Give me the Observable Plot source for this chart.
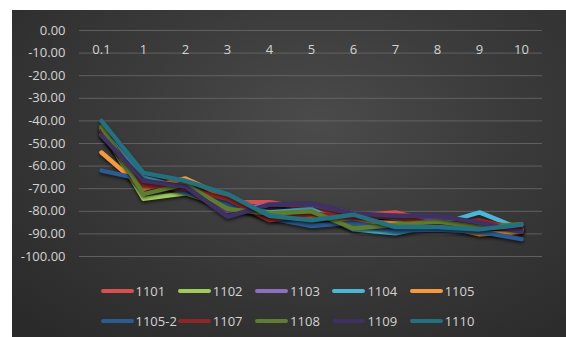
<!DOCTYPE html>
<html>
<head>
<meta charset="utf-8">
<script src="https://cdn.jsdelivr.net/npm/d3@7"></script>
<script src="https://cdn.jsdelivr.net/npm/@observablehq/plot@0.6"></script>
<style>
  html, body { margin: 0; padding: 0; background: #ffffff; }
  body { width: 566px; height: 337px; overflow: hidden; position: relative; }
  #panel {
    position: absolute; left: 12px; top: 10px; width: 554px; height: 327px;
    background: radial-gradient(ellipse 75% 85% at 55% 35%, #4b4b4b 0%, #3b3b3b 45%, #2a2a2a 100%);
    font-family: "Open Sans", sans-serif;
  }
  #chart svg { display: block; background: transparent; }
  #chart svg g[aria-label="line"] path { filter: drop-shadow(0px 2px 1.5px rgba(0,0,0,0.55)); }
  #legend { position: relative; width: 554px; height: 62px; }
  .item { position: absolute; display: flex; align-items: center; height: 20px; color: #d4d4d4; font-size: 13px; }
  .swatch { width: 33px; height: 4px; border-radius: 2px; margin-right: 2px; }
</style>
</head>
<body>
<div id="panel">
  <div id="chart"></div>
  <div id="legend"></div>
</div>
<script>
const categories = ["0.1", "1", "2", "3", "4", "5", "6", "7", "8", "9", "10"];
const seriesNames = ["1101", "1102", "1103", "1104", "1105", "1105-2", "1107", "1108", "1109", "1110"];
const seriesColors = ["#d8504e", "#9fcc5a", "#8f6dbf", "#4bb6d6", "#f7993f", "#2b5b93", "#8c2727", "#5f7d2f", "#3f3162", "#24707e"];
const yTicks = [0, -10, -20, -30, -40, -50, -60, -70, -80, -90, -100];

const s1101  = [-45,   -69.5, -69,   -76,   -76,   -79,   -82,   -80.5, -85,   -86,   -88];
const s1102  = [-43.5, -74.5, -72,   -78,   -81,   -81,   -86,   -85,   -84,   -87,   -88];
const s1103  = [-46,   -67,   -68,   -80,   -77,   -77,   -81,   -83,   -83,   -85,   -88.5];
const s1104  = [-44,   -65,   -70,   -77,   -80.5, -79,   -88,   -89.7, -86,   -80.5, -88];
const s1105  = [-54,   -70,   -65.5, -74,   -82,   -82.4, -84,   -85.4, -86,   -90.2, -89];
const s1105b = [-62,   -66,   -71.6, -76,   -83,   -86.5, -85,   -88.5, -88,   -89,   -92.3];
const s1107  = [-44,   -68.5, -70,   -74.5, -84,   -81,   -83,   -82,   -86,   -84,   -88];
const s1108  = [-42.5, -72.4, -68,   -79,   -81,   -80,   -87.6, -86,   -84.5, -87,   -85.7];
const s1109  = [-46.5, -66.5, -69,   -82.4, -77,   -76.5, -81,   -82,   -82,   -85,   -89];
const s1110  = [-40,   -63,   -66.5, -72.4, -82,   -84,   -81.5, -87,   -87,   -88,   -86];

const seriesValues = [s1101, s1102, s1103, s1104, s1105, s1105b, s1107, s1108, s1109, s1110];

const rows = [];
seriesNames.forEach((name, i) => {
  seriesValues[i].forEach((v, j) => rows.push({series: name, cat: categories[j], value: v}));
});

const chart = Plot.plot({
  width: 554,
  height: 262,
  marginTop: 20,
  marginBottom: 16,
  marginLeft: 67,
  marginRight: 24,
  style: {fontFamily: "Open Sans, sans-serif", fontSize: "13px", color: "#d4d4d4", background: "transparent"},
  x: {type: "point", domain: categories, padding: 0.5},
  y: {domain: [-100, 0]},
  color: {domain: seriesNames, range: seriesColors},
  marks: [
    Plot.gridY(yTicks, {stroke: "#6a6a6a", strokeOpacity: 0.8, strokeWidth: 1}),
    Plot.axisY(yTicks, {tickSize: 0, tickPadding: 14, tickFormat: d => d.toFixed(2), label: null, fill: "#d4d4d4"}),
    Plot.axisX(categories, {anchor: "top", tickSize: 0, tickPadding: 0, lineAnchor: "middle", dy: 19, label: null, fill: "#d4d4d4"}),
    ...seriesNames.map((name, i) =>
      Plot.line(rows.filter(r => r.series === name), {x: "cat", y: "value", stroke: seriesColors[i], strokeWidth: 4.5, strokeLinejoin: "round", strokeLinecap: "round"})
    )
  ]
});
document.getElementById("chart").appendChild(chart);

const legend = document.getElementById("legend");
seriesNames.forEach((name, i) => {
  const row = Math.floor(i / 5), col = i % 5;
  const el = document.createElement("div");
  el.className = "item";
  el.style.left = (88.5 + col * 77.3) + "px";
  el.style.top = (9 + row * 30) + "px";
  el.innerHTML = `<span class="swatch" style="background:${seriesColors[i]}"></span><span>${name}</span>`;
  legend.appendChild(el);
});
</script>
</body>
</html>
